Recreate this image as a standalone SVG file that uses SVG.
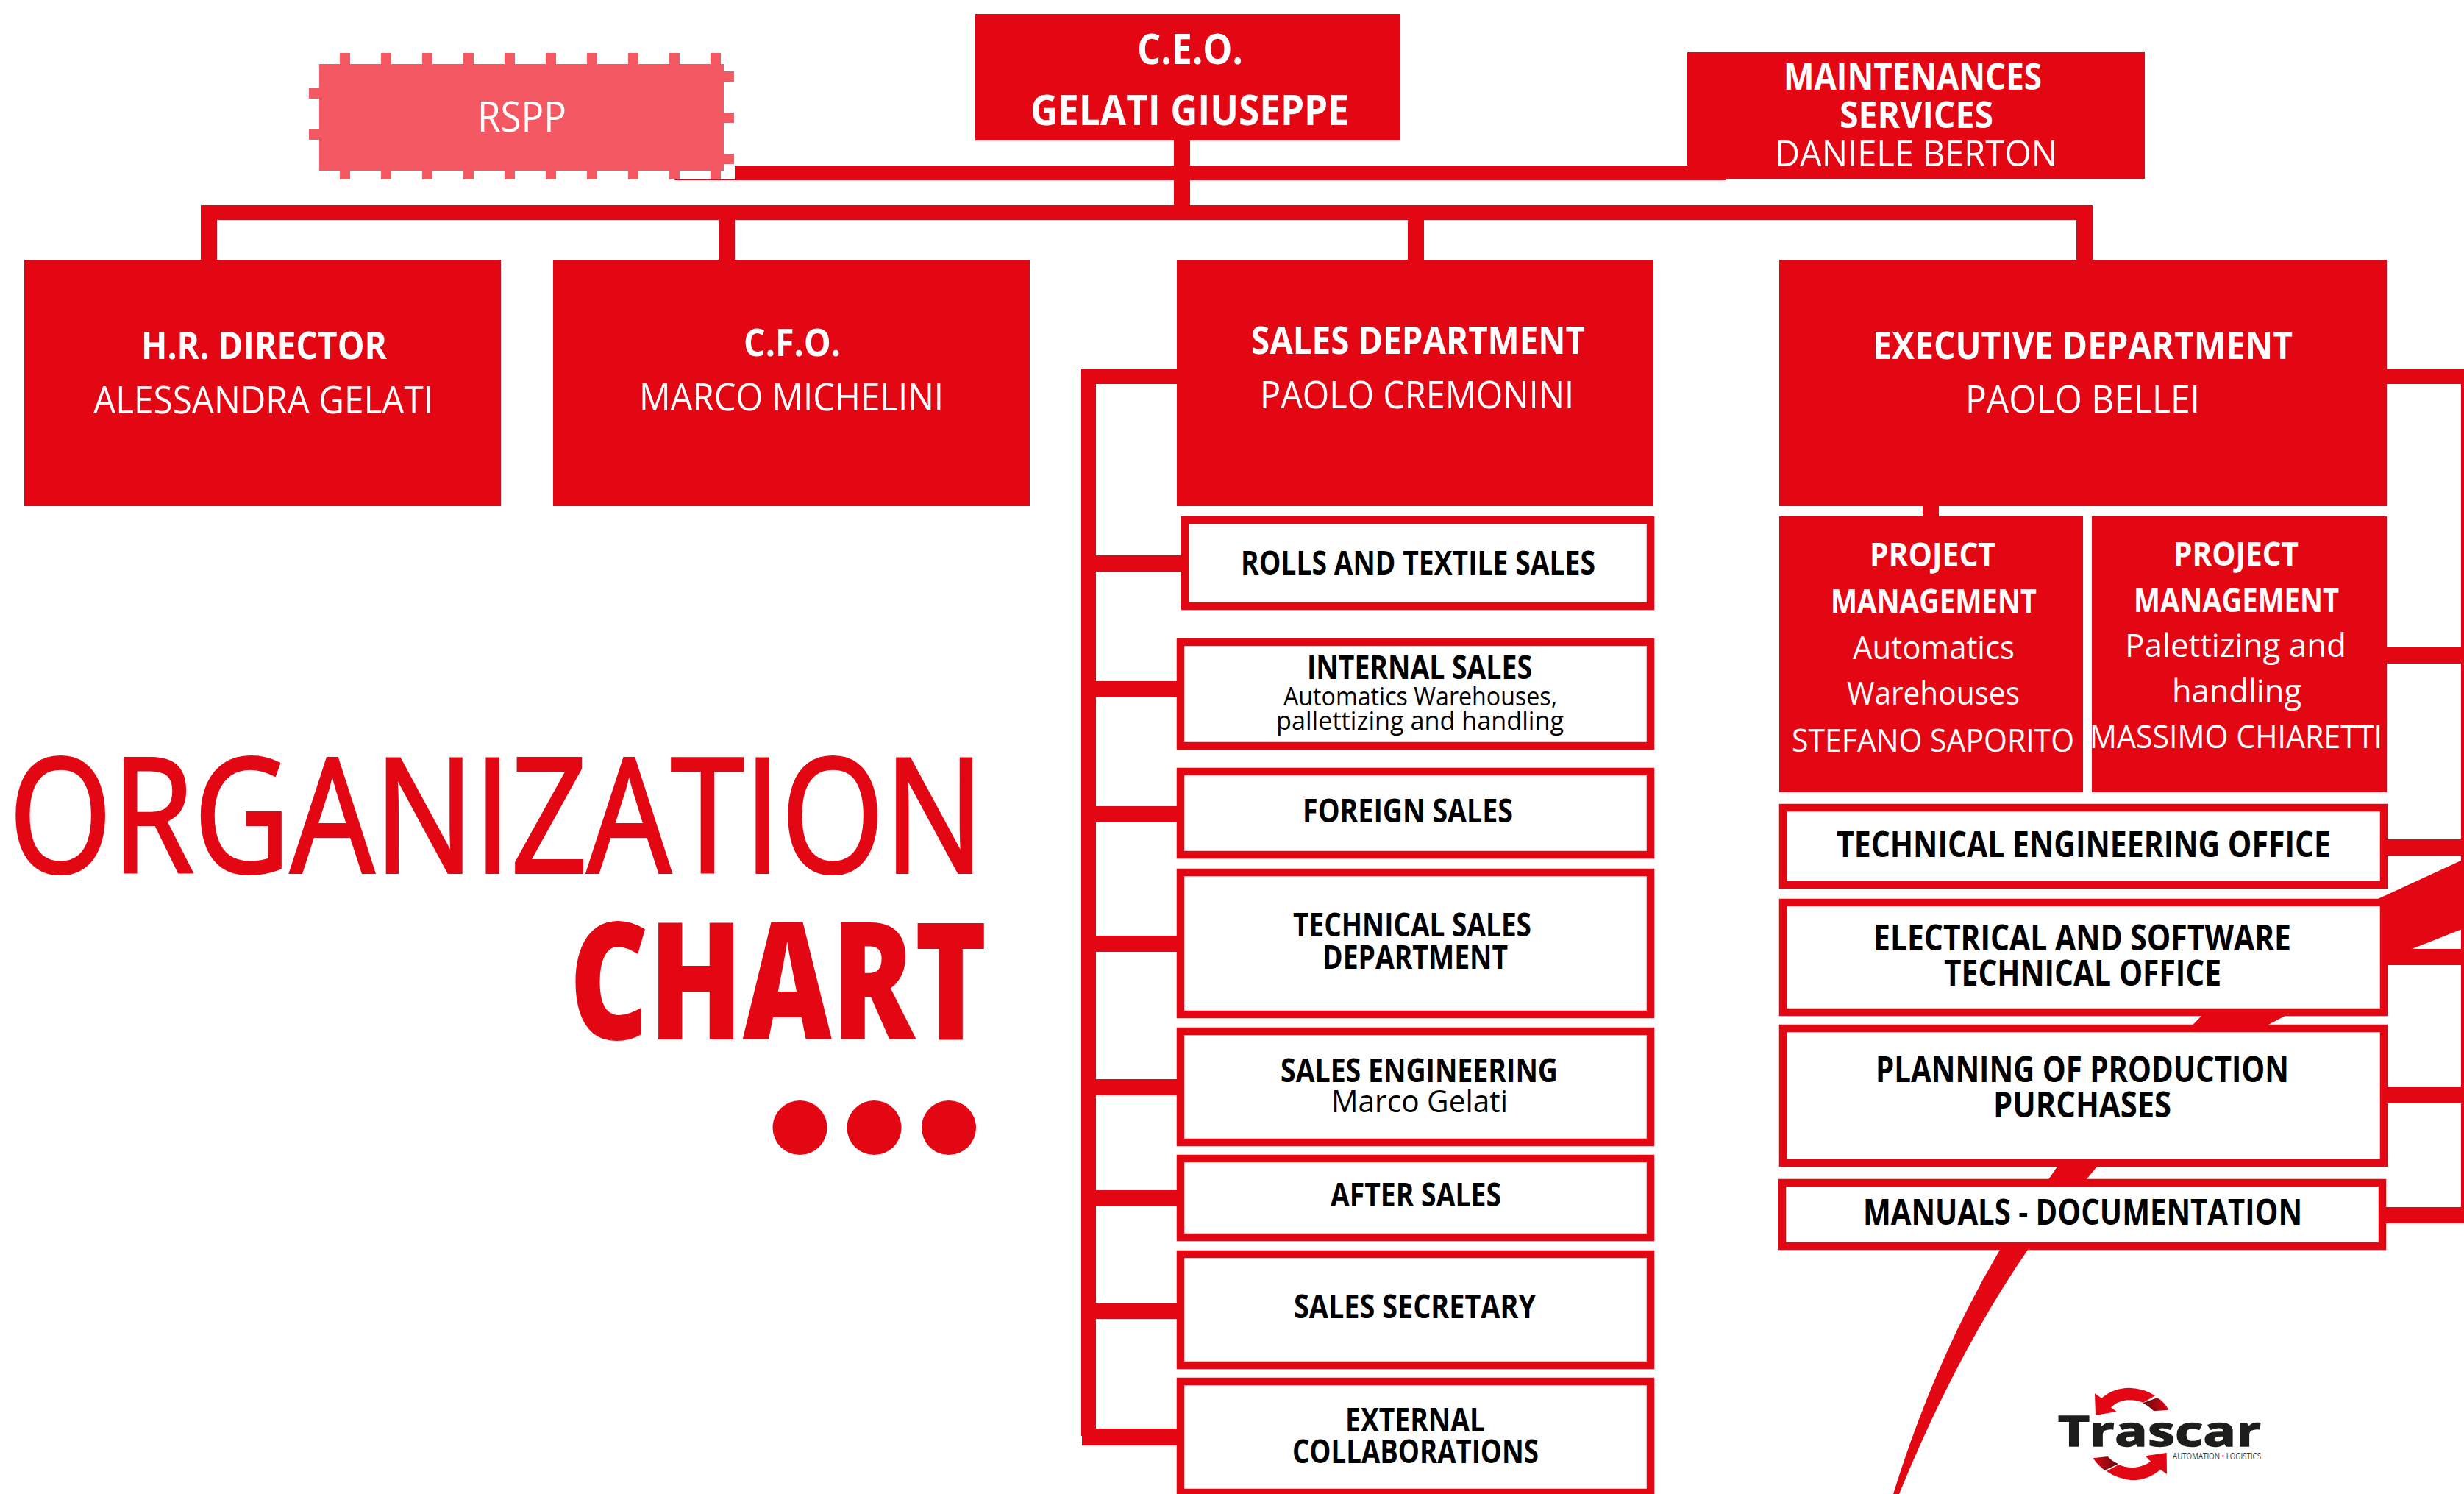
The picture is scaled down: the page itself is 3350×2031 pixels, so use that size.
<svg xmlns="http://www.w3.org/2000/svg" width="3350" height="2031" viewBox="0 0 3350 2031">
<defs>
<linearGradient id="darkA" x1="0" y1="0" x2="1" y2="0"><stop offset="0" stop-color="#5e0a0e"/><stop offset="1" stop-color="#e30613"/></linearGradient>
<linearGradient id="darkB" x1="1" y1="0" x2="0" y2="0"><stop offset="0" stop-color="#5e0a0e"/><stop offset="1" stop-color="#e30613"/></linearGradient>
</defs>
<style>
text{font-family:"Open Sans","Liberation Sans",sans-serif}
.r{fill:#e30613}
.box{fill:#fff;stroke:#e30613;stroke-width:10.5}
.w{fill:#fff}
.k{fill:#000}
.b{font-weight:700}
.tick{fill:none;stroke:#f35863;stroke-dasharray:14 42}
</style>
<rect width="3350" height="2031" fill="#fff"/>
<g id="connectors">
<path class="r" d="M3350 1168L3233 1222L2993 1381L2797 1586L2719 1699Q2630 1850 2574 2031L2582 2031Q2660 1840 2757 1699L2851 1586L3084 1393L3279 1290L3350 1262Z"/>
<rect class="r" x="1596" y="191" width="22" height="108"/>
<rect class="r" x="917" y="225" width="1430" height="20"/>
<rect class="r" x="273" y="279" width="2572" height="20"/>
<rect class="r" x="273" y="279" width="22" height="74"/>
<rect class="r" x="977" y="279" width="22" height="74"/>
<rect class="r" x="1914" y="279" width="22" height="74"/>
<rect class="r" x="2823" y="279" width="22" height="74"/>
<rect class="r" x="2614" y="688" width="22" height="14"/>
<rect class="r" x="1470" y="502" width="130" height="20"/>
<rect class="r" x="1470" y="502" width="20" height="1450"/>
<rect class="r" x="1471" y="1942" width="130" height="23"/>
<rect class="r" x="1490" y="755" width="116" height="22"/>
<rect class="r" x="1490" y="926" width="110" height="22"/>
<rect class="r" x="1490" y="1096" width="110" height="22"/>
<rect class="r" x="1490" y="1272" width="110" height="22"/>
<rect class="r" x="1490" y="1467" width="110" height="22"/>
<rect class="r" x="1490" y="1618" width="110" height="22"/>
<rect class="r" x="1490" y="1771" width="110" height="22"/>
<rect class="r" x="3245" y="502" width="105" height="20"/>
<rect class="r" x="3346" y="502" width="4" height="1161"/>
<rect class="r" x="3245" y="880" width="105" height="22"/>
<rect class="r" x="3245" y="1141" width="105" height="22"/>
<rect class="r" x="3245" y="1290" width="105" height="22"/>
<rect class="r" x="3245" y="1478" width="105" height="22"/>
<rect class="r" x="3244" y="1641" width="106" height="22"/>
</g>
<g id="rspp">
<rect x="420" y="72" width="579" height="172" fill="#fff"/>
<rect x="434" y="87" width="550" height="145" fill="#f35863"/>
<path class="tick" stroke-width="15" d="M462 79.500H981"/>
<path class="tick" stroke-width="12" d="M462 238H981"/>
<path class="tick" stroke-width="14" d="M991 97V223"/>
<path class="tick" stroke-width="14" d="M427 120V190"/>
<text class="w" x="649" y="179" font-size="56" textLength="121" lengthAdjust="spacingAndGlyphs">RSPP</text>
</g>
<g id="ceo">
<rect class="r" x="1326" y="19" width="578" height="172"/>
<text class="w b" x="1546" y="87" font-size="58" textLength="144" lengthAdjust="spacingAndGlyphs">C.E.O.</text>
<text class="w b" x="1401" y="170" font-size="58" textLength="433" lengthAdjust="spacingAndGlyphs">GELATI GIUSEPPE</text>
</g>
<g id="maintenances">
<rect class="r" x="2294" y="71" width="622" height="172"/>
<text class="w b" x="2425" y="122" font-size="50" textLength="351" lengthAdjust="spacingAndGlyphs">MAINTENANCES</text>
<text class="w b" x="2501" y="174" font-size="50" textLength="209" lengthAdjust="spacingAndGlyphs">SERVICES</text>
<text class="w" x="2413" y="226" font-size="50" textLength="384" lengthAdjust="spacingAndGlyphs">DANIELE BERTON</text>
</g>
<g id="hr">
<rect class="r" x="33" y="353" width="648" height="335"/>
<text class="w b" x="192" y="488" font-size="52" textLength="334" lengthAdjust="spacingAndGlyphs">H.R. DIRECTOR</text>
<text class="w" x="127" y="562" font-size="52" textLength="462" lengthAdjust="spacingAndGlyphs">ALESSANDRA GELATI</text>
</g>
<g id="cfo">
<rect class="r" x="752" y="353" width="648" height="335"/>
<text class="w b" x="1011" y="484" font-size="52" textLength="132" lengthAdjust="spacingAndGlyphs">C.F.O.</text>
<text class="w" x="869" y="558" font-size="52" textLength="414" lengthAdjust="spacingAndGlyphs">MARCO MICHELINI</text>
</g>
<g id="sales">
<rect class="r" x="1600" y="353" width="648" height="335"/>
<text class="w b" x="1701" y="481" font-size="52" textLength="454" lengthAdjust="spacingAndGlyphs">SALES DEPARTMENT</text>
<text class="w" x="1713" y="555" font-size="52" textLength="427" lengthAdjust="spacingAndGlyphs">PAOLO CREMONINI</text>
</g>
<g id="executive">
<rect class="r" x="2419" y="353" width="826" height="335"/>
<text class="w b" x="2546" y="488" font-size="52" textLength="571" lengthAdjust="spacingAndGlyphs">EXECUTIVE DEPARTMENT</text>
<text class="w" x="2672" y="561" font-size="52" textLength="319" lengthAdjust="spacingAndGlyphs">PAOLO BELLEI</text>
</g>
<g id="pm1">
<rect class="r" x="2419" y="702" width="413" height="375"/>
<text class="w b" x="2542" y="770" font-size="44" textLength="171" lengthAdjust="spacingAndGlyphs">PROJECT</text>
<text class="w b" x="2489" y="833" font-size="44" textLength="280" lengthAdjust="spacingAndGlyphs">MANAGEMENT</text>
<text class="w" x="2519" y="896" font-size="44" textLength="220" lengthAdjust="spacingAndGlyphs">Automatics</text>
<text class="w" x="2511" y="958" font-size="44" textLength="235" lengthAdjust="spacingAndGlyphs">Warehouses</text>
<text class="w" x="2436" y="1022" font-size="44" textLength="384" lengthAdjust="spacingAndGlyphs">STEFANO SAPORITO</text>
</g>
<g id="pm2">
<rect class="r" x="2844" y="702" width="401" height="375"/>
<text class="w b" x="2955" y="769" font-size="44" textLength="170" lengthAdjust="spacingAndGlyphs">PROJECT</text>
<text class="w b" x="2901" y="832" font-size="44" textLength="279" lengthAdjust="spacingAndGlyphs">MANAGEMENT</text>
<text class="w" x="2889" y="893" font-size="44" textLength="301" lengthAdjust="spacingAndGlyphs">Palettizing and</text>
<text class="w" x="2953" y="955" font-size="44" textLength="176" lengthAdjust="spacingAndGlyphs">handling</text>
<text class="w" x="2841" y="1017" font-size="44" textLength="398" lengthAdjust="spacingAndGlyphs">MASSIMO CHIARETTI</text>
</g>
<g id="technical-engineering">
<rect class="box" x="2424" y="1098" width="817" height="105"/>
<text class="k b" x="2497" y="1165" font-size="48" textLength="672" lengthAdjust="spacingAndGlyphs">TECHNICAL ENGINEERING OFFICE</text>
</g>
<g id="electrical">
<rect class="box" x="2424" y="1227" width="817" height="149"/>
<text class="k b" x="2547" y="1292" font-size="48" textLength="568" lengthAdjust="spacingAndGlyphs">ELECTRICAL AND SOFTWARE</text>
<text class="k b" x="2643" y="1340" font-size="48" textLength="377" lengthAdjust="spacingAndGlyphs">TECHNICAL OFFICE</text>
</g>
<g id="planning">
<rect class="box" x="2424" y="1398" width="817" height="183"/>
<text class="k b" x="2550" y="1471" font-size="48" textLength="562" lengthAdjust="spacingAndGlyphs">PLANNING OF PRODUCTION</text>
<text class="k b" x="2710" y="1519" font-size="48" textLength="242" lengthAdjust="spacingAndGlyphs">PURCHASES</text>
</g>
<g id="manuals">
<rect class="box" x="2423" y="1608" width="816" height="86"/>
<text class="k b" x="2533" y="1665" font-size="48" textLength="597" lengthAdjust="spacingAndGlyphs">MANUALS - DOCUMENTATION</text>
</g>
<g id="rolls">
<rect class="box" x="1611" y="707" width="633" height="117"/>
<text class="k b" x="1687" y="781" font-size="44" textLength="482" lengthAdjust="spacingAndGlyphs">ROLLS AND TEXTILE SALES</text>
</g>
<g id="internal-sales">
<rect class="box" x="1605" y="873" width="639" height="141"/>
<text class="k b" x="1777" y="923" font-size="44" textLength="306" lengthAdjust="spacingAndGlyphs">INTERNAL SALES</text>
<text class="k" x="1745" y="959" font-size="35" textLength="372" lengthAdjust="spacingAndGlyphs">Automatics Warehouses,</text>
<text class="k" x="1735" y="992" font-size="35" textLength="391" lengthAdjust="spacingAndGlyphs">pallettizing and handling</text>
</g>
<g id="foreign-sales">
<rect class="box" x="1605" y="1049" width="639" height="113"/>
<text class="k b" x="1771" y="1118" font-size="44" textLength="286" lengthAdjust="spacingAndGlyphs">FOREIGN SALES</text>
</g>
<g id="technical-sales">
<rect class="box" x="1605" y="1186" width="639" height="193"/>
<text class="k b" x="1758" y="1273" font-size="44" textLength="324" lengthAdjust="spacingAndGlyphs">TECHNICAL SALES</text>
<text class="k b" x="1798" y="1317" font-size="44" textLength="252" lengthAdjust="spacingAndGlyphs">DEPARTMENT</text>
</g>
<g id="sales-engineering">
<rect class="box" x="1605" y="1402" width="639" height="151"/>
<text class="k b" x="1741" y="1471" font-size="44" textLength="377" lengthAdjust="spacingAndGlyphs">SALES ENGINEERING</text>
<text class="k" x="1810" y="1512" font-size="42" textLength="240" lengthAdjust="spacingAndGlyphs">Marco Gelati</text>
</g>
<g id="after-sales">
<rect class="box" x="1605" y="1575" width="639" height="107"/>
<text class="k b" x="1809" y="1640" font-size="44" textLength="232" lengthAdjust="spacingAndGlyphs">AFTER SALES</text>
</g>
<g id="sales-secretary">
<rect class="box" x="1605" y="1705" width="639" height="151"/>
<text class="k b" x="1759" y="1792" font-size="44" textLength="329" lengthAdjust="spacingAndGlyphs">SALES SECRETARY</text>
</g>
<g id="external">
<rect class="box" x="1605" y="1878" width="639" height="151"/>
<text class="k b" x="1829" y="1946" font-size="44" textLength="190" lengthAdjust="spacingAndGlyphs">EXTERNAL</text>
<text class="k b" x="1757" y="1989" font-size="44" textLength="335" lengthAdjust="spacingAndGlyphs">COLLABORATIONS</text>
</g>
<g id="title">
<text class="r" x="12" y="1186" font-size="216" stroke="#e30613" stroke-width="4" textLength="1326" lengthAdjust="spacingAndGlyphs">ORGANIZATION</text>
<text class="r" x="774" y="1413" font-size="221" font-weight="800" textLength="568" lengthAdjust="spacingAndGlyphs">CHART</text>
<circle class="r" cx="1087.500" cy="1533" r="37"/>
<circle class="r" cx="1188.500" cy="1533" r="37"/>
<circle class="r" cx="1290" cy="1533" r="37"/>
</g>
<g id="logo">
<g transform="translate(2700 1850) scale(.33333)">
<path class="r" d="M444 133L472 152Q520 110 585 110Q645 112 690 142L642 170Q610 158 575 160Q535 165 510 190L533 207L447 222Z"/>
<path fill="url(#darkA)" d="M700 150Q730 170 745 200L685 205Q665 185 640 172Z"/>
<path class="r" d="M737 375L738 462L712 443Q660 487 595 487Q535 480 492 450L542 423Q570 437 605 435Q645 430 672 410L650 388Z"/>
<path fill="url(#darkB)" d="M437 397L497 390Q515 410 540 420L485 447Q455 425 437 397Z"/>
</g>
<text x="2798" y="1966" font-family="DejaVu Sans" font-size="58" font-weight="700" fill="#1d1d1b" stroke="#1d1d1b" stroke-width="1.500" textLength="276" lengthAdjust="spacingAndGlyphs">Trascar</text>
<text x="2954" y="1984" font-size="12" fill="#333" textLength="120" lengthAdjust="spacingAndGlyphs">AUTOMATION <tspan fill="#e30613">•</tspan> LOGISTICS</text>
</g>
</svg>
